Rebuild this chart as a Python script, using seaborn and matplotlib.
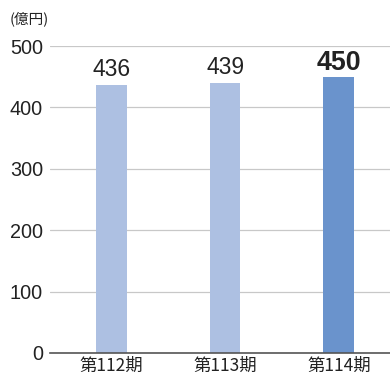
import numpy as np
import pandas as pd
import matplotlib
matplotlib.use("Agg")
import matplotlib.pyplot as plt
import seaborn as sns

# Data
periods = ["第112期", "第113期", "第114期"]
values = [436, 439, 450]
bar_colors = ["#adc0e2", "#adc0e2", "#6a93cc"]

sns.set_theme(style="whitegrid")
plt.rcParams['font.family'] = ['Liberation Sans', 'Noto Sans CJK JP', 'DejaVu Sans']

df = pd.DataFrame({"period": periods, "value": values})

fig = plt.figure(figsize=(3.9, 3.75), dpi=100)
ax = fig.add_axes([50 / 390, 1 - 353 / 375, 1 - 50 / 390, (353 - 46) / 375])

sns.barplot(data=df, x="period", y="value", hue="period", palette=bar_colors,
            width=0.27, legend=False, ax=ax, saturation=1, linewidth=0)

ax.set_ylim(0, 500)
ax.set_yticks(np.arange(0, 501, 100))
ax.set_xlim(-0.54, 2.45)
ax.grid(axis="x", visible=False)
ax.grid(axis="y", color="#c8c8c8", linewidth=0.9)
ax.set_axisbelow(True)
for s in ["top", "right", "left"]:
    ax.spines[s].set_visible(False)
ax.spines["bottom"].set_color("#555555")
ax.spines["bottom"].set_linewidth(1.2)
ax.set_xlabel("")
ax.set_ylabel("")
ax.tick_params(axis="y", length=0, pad=5, labelsize=14.3, labelcolor="#222222")
ax.tick_params(axis="x", length=0, pad=2.5, labelsize=12.5, labelcolor="#222222")
for lab in ax.get_xticklabels():
    lab.set_family(['Noto Sans CJK JP', 'DejaVu Sans'])

# value labels, last one highlighted
for i, v in enumerate(values):
    last = i == len(values) - 1
    ax.annotate(str(v), (i, v), xytext=(0, 5 if last else 6.5),
                textcoords="offset points", ha="center", va="baseline",
                fontsize=19.3 if last else 16.5,
                fontweight="bold" if last else "normal", color="#222222")

fig.text(10 / 390, 1 - 19 / 375, "(億円)", fontsize=10.5, va="center", ha="left",
         family=['Noto Sans CJK JP', 'DejaVu Sans'], color="#222222")

fig.savefig("out.png", dpi=100)
